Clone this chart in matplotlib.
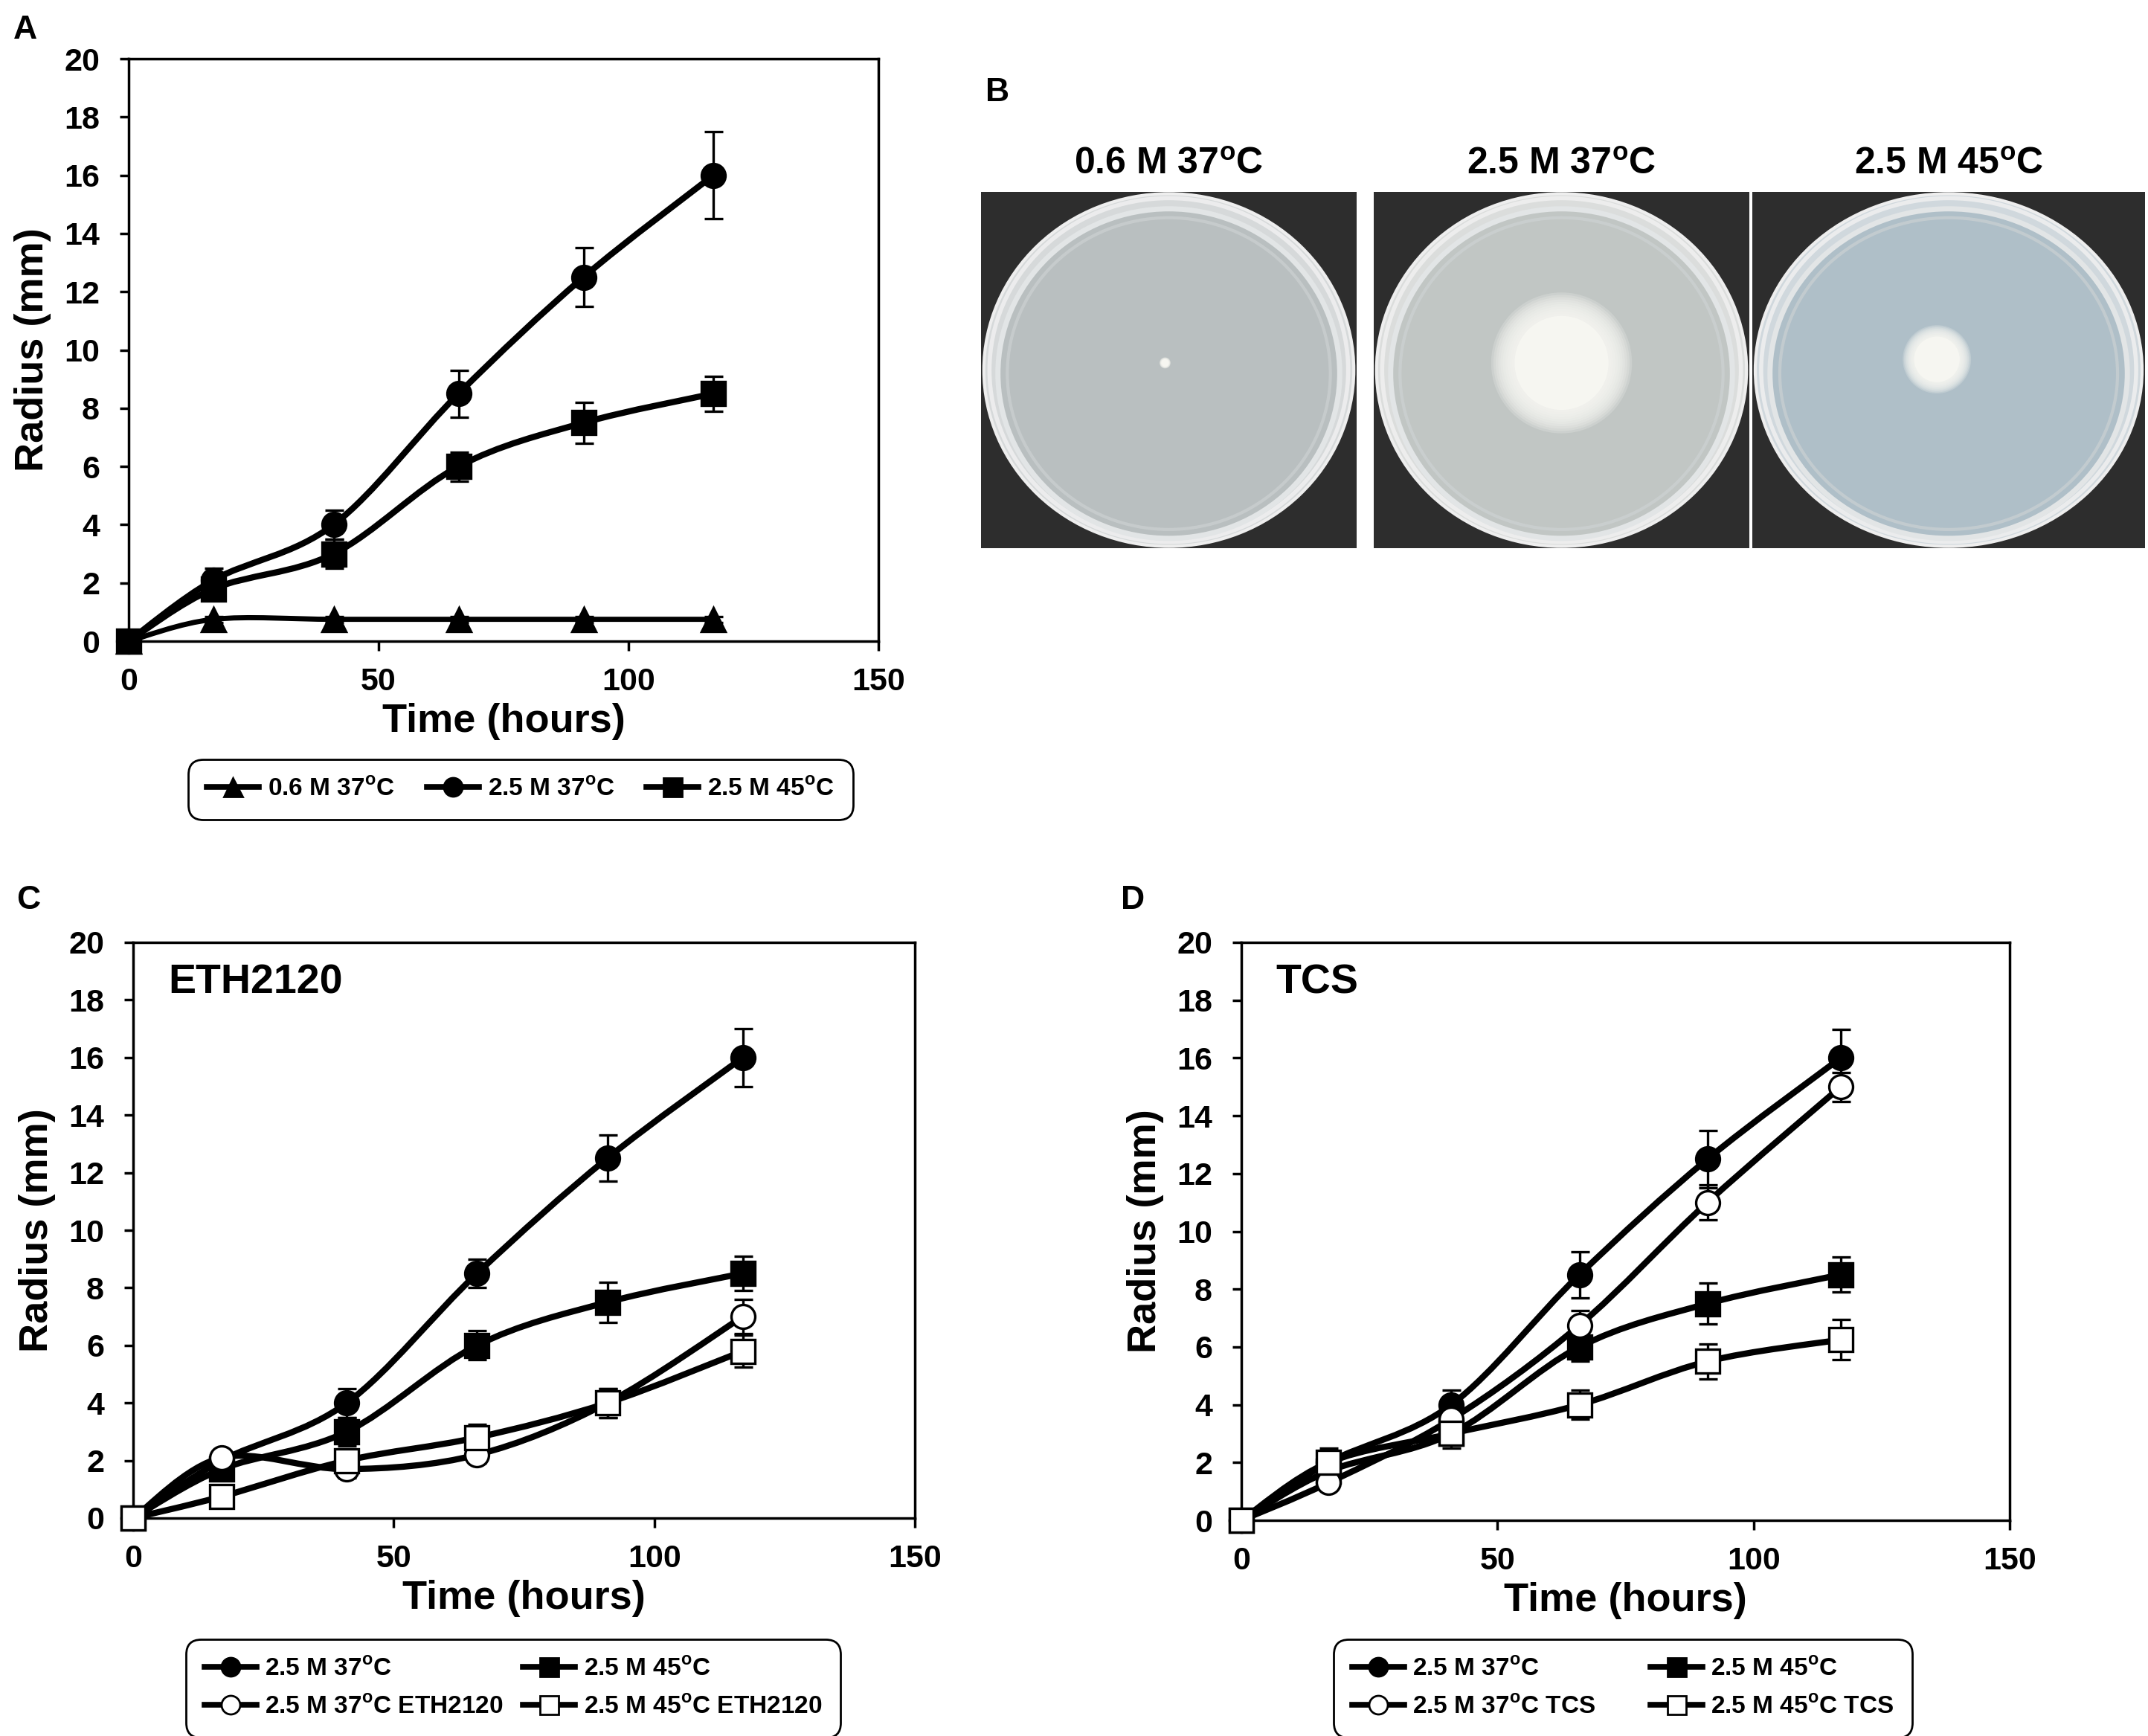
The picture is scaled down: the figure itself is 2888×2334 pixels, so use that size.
import numpy as np
import matplotlib
matplotlib.use('Agg')
import matplotlib.pyplot as plt
from matplotlib.path import Path
from matplotlib.patches import PathPatch, Ellipse, Rectangle
from matplotlib.lines import Line2D

plt.rcParams['font.family'] = ['Liberation Sans', 'DejaVu Sans']
plt.rcParams['font.weight'] = 'bold'
plt.rcParams['mathtext.fontset'] = 'custom'
plt.rcParams['mathtext.rm'] = 'Liberation Sans:bold'
plt.rcParams['mathtext.bf'] = 'Liberation Sans:bold'

# ---- data ----
time_h = [0, 17, 41, 66, 91, 117]

# panel A
a_06_37 = [0, 0.75, 0.75, 0.75, 0.75, 0.75]
a_06_37_err = [0, 0.1, 0.1, 0.1, 0.1, 0.1]
a_25_37 = [0, 2.1, 4.0, 8.5, 12.5, 16.0]
a_25_37_err = [0, 0.4, 0.5, 0.8, 1.0, 1.5]
a_25_45 = [0, 1.8, 3.0, 6.0, 7.5, 8.5]
a_25_45_err = [0, 0.3, 0.5, 0.5, 0.7, 0.6]

# panel C
c_25_37 = [0, 2.0, 4.0, 8.5, 12.5, 16.0]
c_25_37_err = [0, 0.2, 0.5, 0.5, 0.8, 1.0]
c_25_45 = [0, 1.7, 3.0, 6.0, 7.5, 8.5]
c_25_45_err = [0, 0.2, 0.5, 0.5, 0.7, 0.6]
c_eth_37 = [0, 2.1, 1.7, 2.2, 4.0, 7.0]
c_eth_37_err = [0, 0.2, 0.3, 0.3, 0.5, 0.6]
c_eth_45 = [0, 0.75, 2.0, 2.8, 4.0, 5.8]
c_eth_45_err = [0, 0.2, 0.3, 0.45, 0.5, 0.55]

# panel D
d_25_37 = [0, 2.0, 4.0, 8.5, 12.5, 16.0]
d_25_37_err = [0, 0.3, 0.5, 0.8, 1.0, 1.0]
d_25_45 = [0, 1.7, 3.0, 6.0, 7.5, 8.5]
d_25_45_err = [0, 0.3, 0.5, 0.5, 0.7, 0.6]
d_tcs_37 = [0, 1.3, 3.5, 6.75, 11.0, 15.0]
d_tcs_37_err = [0, 0.2, 0.3, 0.5, 0.6, 0.5]
d_tcs_45 = [0, 2.0, 3.0, 4.0, 5.5, 6.25]
d_tcs_45_err = [0, 0.5, 0.4, 0.5, 0.6, 0.7]

deg = r'$^{\mathbf{o}}$'
lab_06_37 = '0.6 M 37' + deg + 'C'
lab_25_37 = '2.5 M 37' + deg + 'C'
lab_25_45 = '2.5 M 45' + deg + 'C'
plate_titles = [lab_06_37, lab_25_37, lab_25_45]

W, H = 2888, 2334
fig = plt.figure(figsize=(W / 100, H / 100), dpi=100)


def box(l, t, r, b):
    return [l / W, 1 - b / H, (r - l) / W, (b - t) / H]


def smooth_path(x, y):
    # Excel-like smoothed line: Catmull-Rom segments as cubic Beziers
    pts = np.column_stack([x, y]).astype(float)
    ext = np.vstack([pts[0], pts, pts[-1]])
    verts = [pts[0]]
    codes = [Path.MOVETO]
    for i in range(len(pts) - 1):
        p0, p1, p2, p3 = ext[i], ext[i + 1], ext[i + 2], ext[i + 3]
        verts += [p1 + (p2 - p0) / 6, p2 - (p3 - p1) / 6, p2]
        codes += [Path.CURVE4] * 3
    return Path(verts, codes)


def draw_series(ax, y, err, marker, filled, lw=6, ms=23):
    ax.add_patch(PathPatch(smooth_path(time_h, y), fill=False, lw=lw,
                           ec='black', zorder=2, clip_on=False))
    ax.errorbar(time_h, y, yerr=err, fmt='none', ecolor='black',
                elinewidth=2.4, capsize=9, capthick=2.4, zorder=3, clip_on=False)
    ax.plot(time_h, y, linestyle='none', marker=marker, ms=ms,
            mfc='black' if filled else 'white', mec='black', mew=2.4,
            zorder=4, clip_on=False)


def setup_axes(ax):
    ax.set_xlim(0, 150)
    ax.set_ylim(0, 20)
    ax.set_xticks([0, 50, 100, 150])
    ax.set_yticks(range(0, 21, 2))
    ax.tick_params(direction='out', length=9, width=2.5, labelsize=31)
    ax.tick_params(axis='y', pad=19)
    ax.tick_params(axis='x', pad=16)
    for s in ax.spines.values():
        s.set_linewidth(2.5)
    ax.set_xlabel('Time (hours)', fontsize=39, fontweight='bold', labelpad=6)
    ax.set_ylabel('Radius (mm)', fontsize=39, fontweight='bold', labelpad=12)


def handle(marker, filled):
    return Line2D([], [], color='black', lw=5.5, marker=marker, ms=18,
                  mfc='black' if filled else 'white', mec='black', mew=2)


def add_legend(handles, labels, cx, cy, ncol, colsp):
    leg = fig.legend(handles, labels, loc='center', ncol=ncol,
                     bbox_to_anchor=(cx / W, 1 - cy / H),
                     fontsize=24, handlelength=2.1, handletextpad=0.35,
                     columnspacing=colsp, borderpad=0.75, labelspacing=0.6,
                     frameon=True, fancybox=True, framealpha=1)
    fr = leg.get_frame()
    fr.set_edgecolor('black')
    fr.set_linewidth(2)
    fr.set_boxstyle('round,pad=0,rounding_size=0.6')
    return leg


# ---- panel A ----
axA = fig.add_axes(box(173, 79, 1181, 862))
draw_series(axA, a_06_37, a_06_37_err, '^', True, lw=5)
draw_series(axA, a_25_37, a_25_37_err, 'o', True)
draw_series(axA, a_25_45, a_25_45_err, 's', True)
setup_axes(axA)
fig.text(18 / W, 1 - 40 / H, 'A', fontsize=32, fontweight='bold', va='center')
add_legend([handle('^', True), handle('o', True), handle('s', True)],
           [lab_06_37, lab_25_37, lab_25_45], 700, 1061, 3, 1.3)

# ---- panel B: plates ----
fig.text(1325 / W, 1 - 125 / H, 'B', fontsize=32, fontweight='bold', va='center')
plate_boxes = [(1319, 258, 1824, 737), (1847, 258, 2352, 737), (2356, 258, 2884, 737)]
plate_styles = [
    dict(agar='#b9bfc0', rim='#d6d9da', colony=0.010, cxy=(0.49, 0.52)),
    dict(agar='#c1c6c4', rim='#dbdddc', colony=0.125, cxy=(0.50, 0.52)),
    dict(agar='#afbfc8', rim='#d0d8dd', colony=0.058, cxy=(0.47, 0.53)),
]
for title, (l, t, r, b), st in zip(plate_titles, plate_boxes, plate_styles):
    ax = fig.add_axes(box(l, t, r, b))
    ax.set_xlim(0, 1)
    ax.set_ylim(0, 1)
    ax.axis('off')
    asp = (r - l) / (b - t)
    ax.add_patch(Rectangle((0, 0), 1, 1, fc='#2d2d2d', ec='none'))
    ax.add_patch(Ellipse((0.5, 0.5), 0.985, 0.99, fc=st['rim'], ec='#eeeeee', lw=3))
    ax.add_patch(Ellipse((0.5, 0.5), 0.955, 0.965, fc='none', ec='#f2f2f2', lw=4, alpha=0.8))
    ax.add_patch(Ellipse((0.5, 0.49), 0.91, 0.925, fc=st['agar'], ec='#e2e5e6', lw=5))
    ax.add_patch(Ellipse((0.5, 0.49), 0.86, 0.875, fc='none', ec='#d0d4d5', lw=3, alpha=0.6))
    cr = st['colony']
    for k in range(10, -1, -1):
        rr = cr * (1 + 0.05 * k)
        ax.add_patch(Ellipse(st['cxy'], 2 * rr, 2 * rr * asp, fc='#f7f7f2',
                             ec='none', alpha=0.22 if k else 0.92))
    ax.text(0.5, 1 + 37 / (b - t), title, transform=ax.transAxes, ha='center',
            va='center', fontsize=36, fontweight='bold')

# ---- panel C ----
axC = fig.add_axes(box(179, 1267, 1230, 2041))
draw_series(axC, c_25_37, c_25_37_err, 'o', True)
draw_series(axC, c_25_45, c_25_45_err, 's', True)
draw_series(axC, c_eth_37, c_eth_37_err, 'o', False)
draw_series(axC, c_eth_45, c_eth_45_err, 's', False)
setup_axes(axC)
axC.text(0.045, 0.93, 'ETH2120', transform=axC.transAxes, fontsize=40,
         fontweight='bold', va='center')
fig.text(22 / W, 1 - 1210 / H, 'C', fontsize=32, fontweight='bold', va='center')
add_legend([handle('o', True), handle('o', False), handle('s', True), handle('s', False)],
           [lab_25_37, lab_25_37 + ' ETH2120', lab_25_45, lab_25_45 + ' ETH2120'],
           690, 2270, 2, 0.8)

# ---- panel D ----
axD = fig.add_axes(box(1669, 1267, 2702, 2044))
draw_series(axD, d_25_37, d_25_37_err, 'o', True)
draw_series(axD, d_25_45, d_25_45_err, 's', True)
draw_series(axD, d_tcs_37, d_tcs_37_err, 'o', False)
draw_series(axD, d_tcs_45, d_tcs_45_err, 's', False)
setup_axes(axD)
axD.text(0.045, 0.93, 'TCS', transform=axD.transAxes, fontsize=40,
         fontweight='bold', va='center')
fig.text(1507 / W, 1 - 1210 / H, 'D', fontsize=32, fontweight='bold', va='center')
add_legend([handle('o', True), handle('o', False), handle('s', True), handle('s', False)],
           [lab_25_37, lab_25_37 + ' TCS', lab_25_45, lab_25_45 + ' TCS'],
           2182, 2270, 2, 2.2)

fig.savefig('out.png', dpi=100)
